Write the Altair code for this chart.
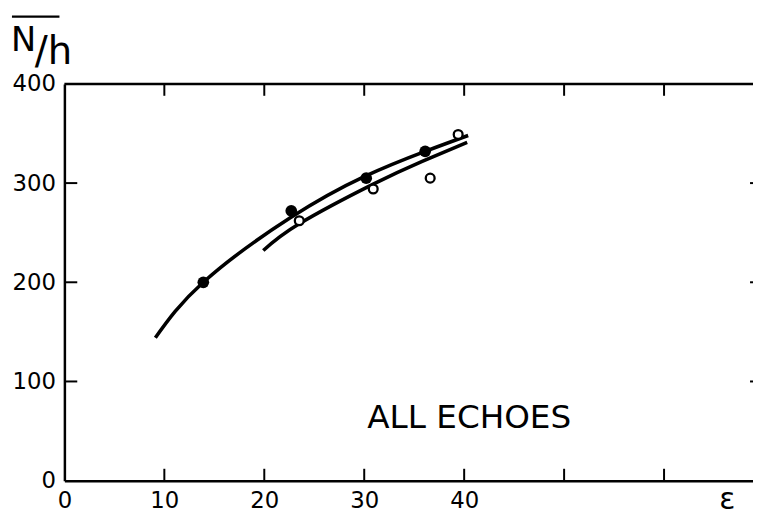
import altair as alt
import pandas as pd

# data
filled_x = [13.9, 22.7, 30.2, 36.1]
filled_y = [200, 272, 305, 332]
open_x = [23.5, 30.9, 36.6, 39.4]
open_y = [262, 294, 305, 349]
upper_x = [9.1, 13.9, 22.6, 30.1, 36.1, 40.4]
upper_y = [144, 200, 265, 307, 332, 348]
lower_x = [19.9, 23.5, 30.9, 35.8, 40.3]
lower_y = [232, 259, 299, 322, 341]
x_labels = [0, 10, 20, 30, 40]
x_ticks = [10, 20, 30, 40, 50, 60]
y_ticks = [100, 200, 300]
y_labels = [0, 100, 200, 300, 400]
note = ["ALL ECHOES"]
note_x = [30.3]
note_y = [63]

W, H = 696, 401
FONT = "DejaVu Sans"
xs = alt.Scale(domain=[0, 68.9], nice=False, zero=False)
ys = alt.Scale(domain=[0, 400], nice=False)

curves = pd.DataFrame({
    "x": upper_x + lower_x,
    "y": upper_y + lower_y,
    "c": ["upper"] * len(upper_x) + ["lower"] * len(lower_x),
})
lines = alt.Chart(curves).mark_line(color="black", strokeWidth=3.6, interpolate="natural").encode(
    x=alt.X("x:Q", scale=xs,
            axis=alt.Axis(values=x_labels, ticks=False, grid=False, domainColor="black", domainWidth=2.5,
                          labelFont=FONT, labelFontSize=23, labelColor="black", labelPadding=9,
                          labelFlush=False, title=None)),
    y=alt.Y("y:Q", scale=ys,
            axis=alt.Axis(values=y_labels, ticks=False, grid=False, domainColor="black", domainWidth=2.5,
                          labelFont=FONT, labelFontSize=23, labelColor="black", labelPadding=9,
                          labelFlush=False, title=None)),
    detail="c:N",
)

filled = alt.Chart(pd.DataFrame({"x": filled_x, "y": filled_y})).mark_point(
    filled=True, shape="circle", color="black", size=140, opacity=1).encode(x="x:Q", y="y:Q")
opens = alt.Chart(pd.DataFrame({"x": open_x, "y": open_y})).mark_point(
    filled=False, shape="circle", stroke="black", fill="white", fillOpacity=1, strokeWidth=2.3, size=80, opacity=1
).encode(x="x:Q", y="y:Q")

top_axis = alt.Chart(pd.DataFrame({"x": [0]})).mark_rule(color="black", strokeWidth=2.5).encode(
    x=alt.value(0), x2=alt.value(W), y=alt.value(0))

xt = pd.DataFrame({"v": x_ticks})
yt = pd.DataFrame({"v": y_ticks})
bt = alt.Chart(xt).mark_rule(color="black", strokeWidth=2).encode(x="v:Q", y=alt.value(H), y2=alt.value(H - 12))
tt = alt.Chart(xt).mark_rule(color="black", strokeWidth=2).encode(x="v:Q", y=alt.value(0), y2=alt.value(12))
lt = alt.Chart(yt).mark_rule(color="black", strokeWidth=2).encode(y="v:Q", x=alt.value(0), x2=alt.value(13))
rt = alt.Chart(yt).mark_rule(color="black", strokeWidth=2).encode(y="v:Q", x=alt.value(W - 3), x2=alt.value(W + 10))

label = alt.Chart(pd.DataFrame({"t": note, "x": note_x, "y": note_y})).mark_text(
    font=FONT, fontSize=33, align="left", baseline="middle", color="black").encode(
    x="x:Q", y="y:Q", text="t:N")

eps = alt.Chart(pd.DataFrame({"t": ["ε"]})).mark_text(
    font=FONT, fontSize=30, align="center", baseline="middle", color="black").encode(
    x=alt.value(670), y=alt.value(421), text="t:N")

ytitle_n = alt.Chart(pd.DataFrame({"t": ["N"]})).mark_text(
    font=FONT, fontSize=34, align="left", baseline="alphabetic", color="black").encode(
    x=alt.value(-54), y=alt.value(-33), text="t:N")
ytitle_h = alt.Chart(pd.DataFrame({"t": ["/h"]})).mark_text(
    font=FONT, fontSize=39, align="left", baseline="alphabetic", color="black").encode(
    x=alt.value(-30), y=alt.value(-20), text="t:N")
overline = alt.Chart(pd.DataFrame({"t": [0]})).mark_rule(color="black", strokeWidth=2.5).encode(
    x=alt.value(-53), x2=alt.value(-5), y=alt.value(-68))

chart = alt.layer(
    lines, filled, opens, top_axis, bt, tt, lt, rt, label, eps, ytitle_n, ytitle_h, overline
).properties(
    width=W, height=H,
    autosize=alt.AutoSizeParams(type="none"),
    padding={"left": 57, "top": 74, "right": 0, "bottom": 32},
    background="white",
).configure_view(stroke=None)

chart.save("out.html", embed_options={"renderer": "svg", "actions": False})
